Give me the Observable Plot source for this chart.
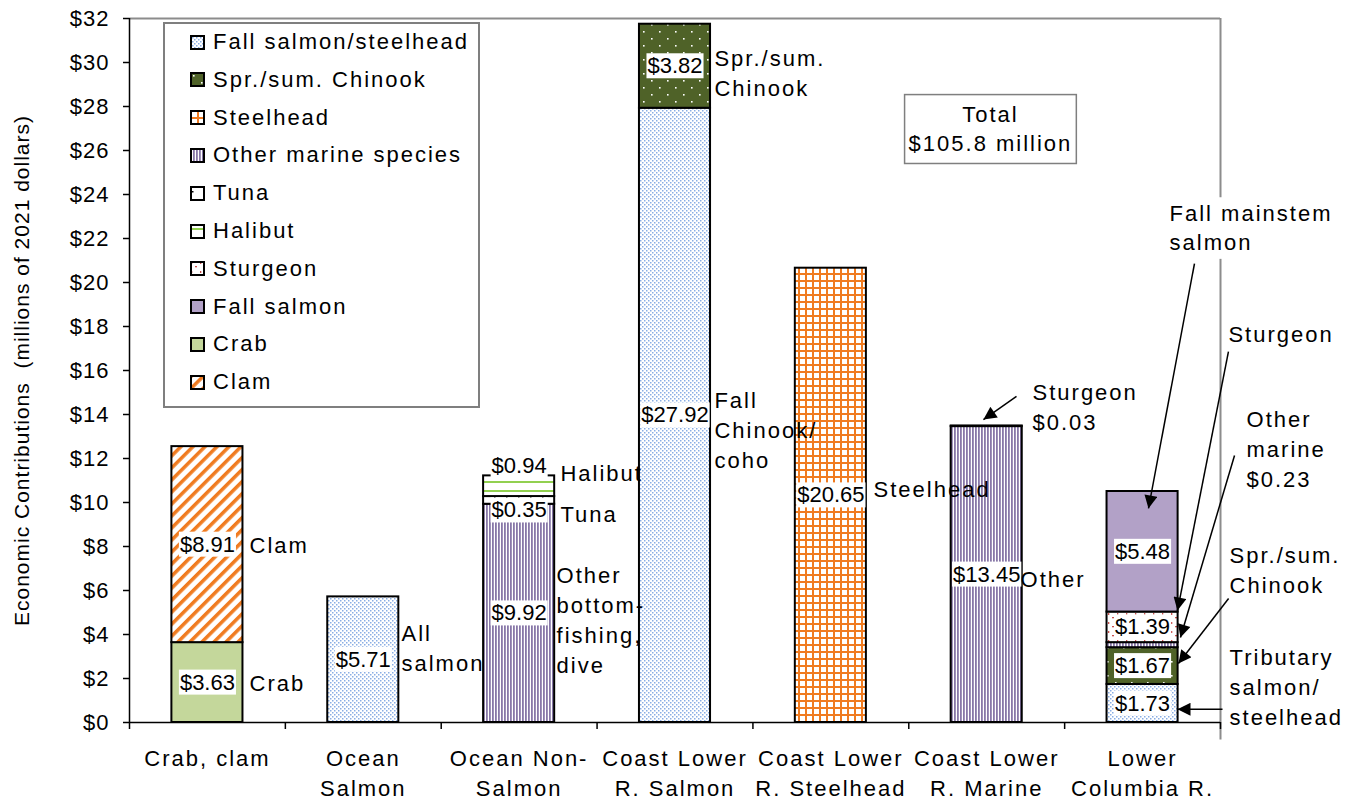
<!DOCTYPE html>
<html><head><meta charset="utf-8">
<script src="https://cdn.jsdelivr.net/npm/d3@7"></script>
<script src="https://cdn.jsdelivr.net/npm/@observablehq/plot@0.6"></script>
<style>
body{margin:0;background:#fff;font-family:"Liberation Sans",Arial,sans-serif;}
#wrap{position:relative;width:1356px;height:802px;}
#legend{position:absolute;left:163px;top:22px;width:313px;height:382px;border:2px solid #7f7f7f;background:#fff;}
.row{position:absolute;left:0;height:26px;display:flex;align-items:center;font-size:22px;letter-spacing:2px;white-space:nowrap;color:#000}
.row svg{margin-left:25px;margin-right:8px;display:block}
</style></head><body>
<svg width="0" height="0" style="position:absolute">
<defs>
<pattern id="pFallSS" width="4" height="4" patternUnits="userSpaceOnUse">
 <rect width="4" height="4" fill="#fff"/>
 <rect x="0" y="0" width="1.5" height="1.5" fill="#89ade4"/>
 <rect x="2" y="2" width="1.5" height="1.5" fill="#89ade4"/>
</pattern>
<pattern id="pSpr" width="16" height="14" patternUnits="userSpaceOnUse">
 <rect width="16" height="14" fill="#4f6228"/>
 <rect x="3" y="3" width="1.6" height="1.6" fill="#fff"/>
 <rect x="11" y="10" width="1.6" height="1.6" fill="#fff"/>
</pattern>
<pattern id="pSteel" width="7" height="7" patternUnits="userSpaceOnUse">
 <rect width="7" height="7" fill="#fff"/>
 <rect x="0" y="0" width="2" height="7" fill="#f07b20"/>
 <rect x="0" y="0" width="7" height="2" fill="#f07b20"/>
</pattern>
<pattern id="pOther" width="3" height="3" patternUnits="userSpaceOnUse">
 <rect width="3" height="3" fill="#fff"/>
 <rect x="0" y="0" width="1.8" height="3" fill="#8877a8"/>
</pattern>
<pattern id="pTuna" width="12" height="12" patternUnits="userSpaceOnUse">
 <rect width="12" height="12" fill="#fff"/>
 <rect x="2" y="5" width="1.5" height="1.5" fill="#000"/>
</pattern>
<pattern id="pHalibut" width="9" height="9" patternUnits="userSpaceOnUse">
 <rect width="9" height="9" fill="#fff"/>
 <rect x="0" y="4" width="9" height="2" fill="#92d050"/>
</pattern>
<pattern id="pSturgeon" width="9" height="9" patternUnits="userSpaceOnUse">
 <rect width="9" height="9" fill="#fff"/>
 <rect x="1" y="1" width="1.3" height="2" fill="#c9504d"/>
 <rect x="5" y="5" width="2" height="1.3" fill="#c9504d"/>
</pattern>
<pattern id="pClam" width="8.5" height="8.5" patternUnits="userSpaceOnUse" patternTransform="rotate(45)">
 <rect width="8.5" height="8.5" fill="#fff"/>
 <rect x="0" y="0" width="3.5" height="8.5" fill="#f07b20"/>
</pattern>
<marker id="arrowHead" viewBox="0 0 10 10" refX="10" refY="5" markerWidth="15" markerHeight="13" markerUnits="userSpaceOnUse" orient="auto">
 <path d="M0,0 L10,5 L0,10 z" fill="#000"/>
</marker>
</defs>
</svg>
<div id="wrap"><div id="chart"></div><div id="legend"></div></div>
<script>
// ---------- data ----------
const categories = ["Crab, clam", "Ocean Salmon", "Ocean Non-Salmon", "Coast Lower R. Salmon",
  "Coast Lower R. Steelhead", "Coast Lower R. Marine", "Lower Columbia R."];
const categoryTickLabels = ["Crab, clam", "Ocean\nSalmon", "Ocean Non-\nSalmon", "Coast Lower\nR. Salmon",
  "Coast Lower\nR. Steelhead", "Coast Lower\nR. Marine", "Lower\nColumbia R."];
const legendSpecies = ["Fall salmon/steelhead", "Spr./sum. Chinook", "Steelhead", "Other marine species",
  "Tuna", "Halibut", "Sturgeon", "Fall salmon", "Crab", "Clam"];
const segmentCategory = ["Crab, clam", "Crab, clam", "Ocean Salmon",
  "Ocean Non-Salmon", "Ocean Non-Salmon", "Ocean Non-Salmon",
  "Coast Lower R. Salmon", "Coast Lower R. Salmon", "Coast Lower R. Steelhead",
  "Coast Lower R. Marine", "Coast Lower R. Marine",
  "Lower Columbia R.", "Lower Columbia R.", "Lower Columbia R.", "Lower Columbia R.", "Lower Columbia R."];
const segmentSpecies = ["Crab", "Clam", "Fall salmon/steelhead",
  "Other marine species", "Tuna", "Halibut",
  "Fall salmon/steelhead", "Spr./sum. Chinook", "Steelhead",
  "Other marine species", "Sturgeon",
  "Fall salmon/steelhead", "Spr./sum. Chinook", "Other marine species", "Sturgeon", "Fall salmon"];
const segmentValue = [3.63, 8.91, 5.71, 9.92, 0.35, 0.94, 27.92, 3.82, 20.65, 13.45, 0.03, 1.73, 1.67, 0.23, 1.39, 5.48];
const yTickValues = [0, 2, 4, 6, 8, 10, 12, 14, 16, 18, 20, 22, 24, 26, 28, 30, 32];
const yTitle = "Economic Contributions  (millions of 2021 dollars)";
const totalLabel = "Total\n$105.8 million";
const noteText = ["Clam", "Crab", "All\nsalmon", "Other\nbottom-\nfishing,\ndive", "Halibut", "Tuna",
  "Spr./sum.\nChinook", "Fall\nChinook/\ncoho", "Steelhead", "Other", "Sturgeon\n$0.03",
  "Sturgeon", "Other\nmarine\n$0.23", "Spr./sum.\nChinook", "Tributary\nsalmon/\nsteelhead"];
const noteX = [0.27, 0.27, 1.245, 2.24, 2.265, 2.265, 3.253, 3.253, 4.274, 5.217, 5.294, 6.551, 6.667, 6.558, 6.558];
const noteY = [8.14, 1.86, 3.45, 4.73, 11.41, 9.55, 29.59, 13.36, 10.68, 6.59, 14.41, 17.73, 12.5, 7.0, 1.68];
const mainstemNote = "Fall mainstem\nsalmon";
const mainstemX = 6.173, mainstemY = 22.55;
const arrowX1 = [5.191, 6.333, 6.551, 6.590, 6.552, 6.513];
const arrowY1 = [14.82, 20.86, 16.86, 12.14, 5.64, 0.6];
const arrowX2 = [4.979, 6.038, 6.224, 6.243, 6.230, 6.224];
const arrowY2 = [13.77, 9.73, 5.09, 3.86, 2.68, 0.6];

// ---------- styling lookups ----------
const patternFor = {
  "Fall salmon/steelhead": "url(#pFallSS)", "Spr./sum. Chinook": "url(#pSpr)", "Steelhead": "url(#pSteel)",
  "Other marine species": "url(#pOther)", "Tuna": "url(#pTuna)", "Halibut": "url(#pHalibut)",
  "Sturgeon": "url(#pSturgeon)", "Fall salmon": "#b2a1c7", "Crab": "#c4d79b", "Clam": "url(#pClam)"
};
const halfWidth = 0.228;
const labelShift = {"Ocean Non-Salmon|Halibut": 0.9, "Ocean Non-Salmon|Tuna": -0.455};

// ---------- derived ----------
const segments = segmentValue.map((v, i) => ({
  category: segmentCategory[i], idx: categories.indexOf(segmentCategory[i]),
  species: segmentSpecies[i], value: v
}));
const cum = new Map();
for (const s of segments) {
  const b = cum.get(s.idx) || 0;
  s.y1 = b; s.y2 = b + s.value; s.mid = (s.y1 + s.y2) / 2;
  cum.set(s.idx, s.y2);
}
const labeled = segments.filter(s => s.value >= 0.3);
const notes = noteText.map((t, i) => ({text: t, x: noteX[i], y: noteY[i]}));
const arrows = arrowX1.map((x, i) => ({x1: x, y1: arrowY1[i], x2: arrowX2[i], y2: arrowY2[i]}));
const bounds = d3.range(categories.length + 1).map(i => i - 0.5);

const chart = Plot.plot({
  width: 1356, height: 802,
  marginLeft: 129, marginRight: 136, marginTop: 18, marginBottom: 80,
  x: {domain: [-0.5, 6.5]},
  y: {domain: [0, 32]},
  color: {type: "identity"},
  style: {fontFamily: '"Liberation Sans", Arial, sans-serif', fontSize: "22px", color: "black",
    background: "white", overflow: "visible", letterSpacing: "2px"},
  marks: [
    Plot.ruleY([32], {stroke: "#8c8c8c", strokeWidth: 2}),
    Plot.ruleX([6.5], {y1: -0.8, y2: 32, stroke: "#8c8c8c", strokeWidth: 2}),
    Plot.rect(segments, {
      x1: d => d.idx - halfWidth, x2: d => d.idx + halfWidth, y1: "y1", y2: "y2",
      fill: d => patternFor[d.species], stroke: "black", strokeWidth: 2
    }),
    Plot.ruleX([-0.5], {stroke: "black", strokeWidth: 1.5}),
    Plot.ruleY([0], {stroke: "black", strokeWidth: 1.5}),
    Plot.axisY({ticks: yTickValues, tickFormat: d => "$" + d, tickSize: 6, tickPadding: 14,
      fontSize: 22, label: null, strokeWidth: 1.5}),
    Plot.axisX({ticks: d3.range(categories.length), tickFormat: i => categoryTickLabels[i],
      tickSize: 0, tickPadding: 22, fontSize: 22, lineHeight: 1.36, label: null}),
    Plot.axisX({ticks: bounds, tickFormat: () => "", tickSize: 7, strokeWidth: 1.5, label: null}),
    Plot.text(labeled, {x: "idx", y: d => d.mid + (labelShift[d.category + "|" + d.species] || 0),
      text: d => "$" + d.value.toFixed(2), fontSize: 22, ariaDescription: "values"}),
    Plot.text(notes, {x: "x", y: "y", text: "text", textAnchor: "start", lineAnchor: "middle",
      lineHeight: 1.36, fontSize: 22}),
    Plot.text([mainstemNote], {x: mainstemX, y: mainstemY, text: d => d, textAnchor: "start",
      lineHeight: 1.3, fontSize: 22, ariaDescription: "boxednote"}),
    Plot.link(arrows, {x1: "x1", y1: "y1", x2: "x2", y2: "y2", stroke: "black", strokeWidth: 1.5,
      ariaDescription: "arrows"}),
    Plot.text([totalLabel], {x: 5.024, y: 27.07, text: d => d, lineHeight: 1.36, fontSize: 22,
      ariaDescription: "total"}),
    Plot.text([yTitle], {frameAnchor: "left", dx: -107, rotate: -90, textAnchor: "middle",
      text: d => d, fontSize: 21, ariaDescription: "ytitle"})
  ]
});
document.getElementById("chart").appendChild(chart);

const svg = d3.select(chart);
svg.selectAll('g[aria-description="values"]').style("letter-spacing", "0px");
svg.selectAll('g[aria-description="ytitle"]').style("letter-spacing", "1px");
svg.selectAll('g[aria-label="y-axis tick label"]').style("letter-spacing", "1px");

function boxes(label, padX, padY, stroke) {
  svg.selectAll(`g[aria-description="${label}"] text`).each(function() {
    const t = this;
    const b = t.getBBox();
    const r = document.createElementNS("http://www.w3.org/2000/svg", "rect");
    r.setAttribute("x", b.x - padX);
    r.setAttribute("y", b.y - padY);
    r.setAttribute("width", b.width + 2 * padX);
    r.setAttribute("height", b.height + 2 * padY);
    if (t.getAttribute("transform")) r.setAttribute("transform", t.getAttribute("transform"));
    r.setAttribute("fill", "white");
    r.setAttribute("stroke", stroke || "none");
    r.setAttribute("stroke-width", 1.5);
    t.parentNode.insertBefore(r, t);
  });
}
boxes("values", 1, 0);
boxes("boxednote", 2, 4);
boxes("total", 4, 7, "#7f7f7f");
svg.selectAll('g[aria-description="arrows"] path').attr("marker-end", "url(#arrowHead)");
svg.selectAll('g[aria-label="link"] path').attr("marker-end", "url(#arrowHead)");

// ---------- legend ----------
const legend = d3.select("#legend");
legendSpecies.forEach((sp, i) => {
  const row = legend.append("div").attr("class", "row").style("top", (18 + 37.8 * i - 13) + "px");
  const s = row.append("svg").attr("width", 15).attr("height", 15);
  s.append("rect").attr("x", 1).attr("y", 1).attr("width", 13).attr("height", 13)
    .attr("fill", patternFor[sp]).attr("stroke", "black").attr("stroke-width", 2);
  row.append("span").text(sp);
});
</script>
</body></html>
